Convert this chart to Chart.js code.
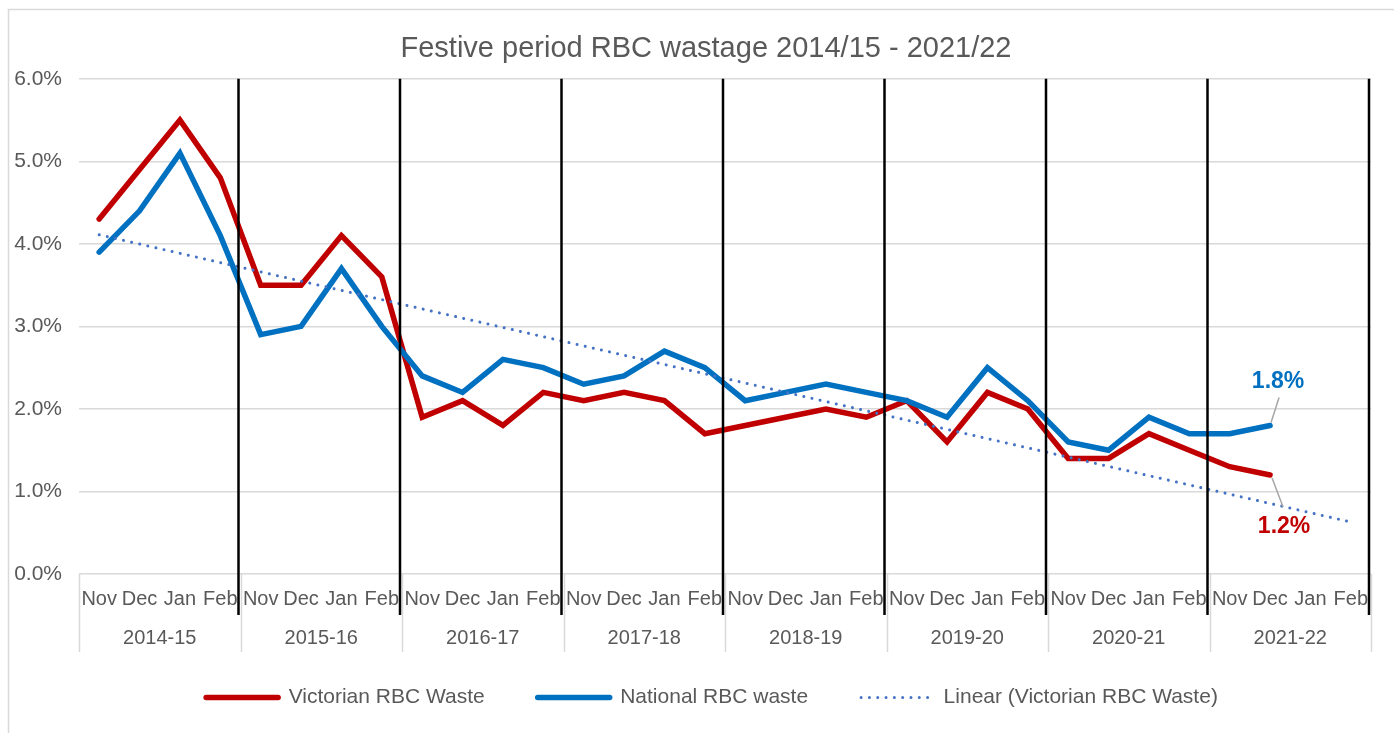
<!DOCTYPE html>
<html>
<head>
<meta charset="utf-8">
<title>Festive period RBC wastage</title>
<script src="https://cdn.jsdelivr.net/npm/chart.js@4.4.1/dist/chart.umd.min.js"></script>
<style>
    html, body { margin: 0; padding: 0; background: #ffffff; }
    #wrap { position: relative; width: 1394px; height: 733px; }
</style>
</head>
<body>
<div id="wrap"><canvas id="rbc-chart"></canvas></div>
<script>
/************************************************************/
/*                      CHART DATA                          */
/************************************************************/

const months = ['Nov', 'Dec', 'Jan', 'Feb'];
const seasons = ['2014-15', '2015-16', '2016-17', '2017-18', '2018-19', '2019-20', '2020-21', '2021-22'];

// % of red blood cells wasted, one value per month (Nov..Feb) per season
const victorianWaste = [
    4.3, 4.9, 5.5, 4.8,
    3.5, 3.5, 4.1, 3.6,
    1.9, 2.1, 1.8, 2.2,
    2.1, 2.2, 2.1, 1.7,
    1.8, 1.9, 2.0, 1.9,
    2.1, 1.6, 2.2, 2.0,
    1.4, 1.4, 1.7, 1.5,
    1.3, 1.2, null, null
];
const nationalWaste = [
    3.9, 4.4, 5.1, 4.1,
    2.9, 3.0, 3.7, 3.0,
    2.4, 2.2, 2.6, 2.5,
    2.3, 2.4, 2.7, 2.5,
    2.1, 2.2, 2.3, 2.2,
    2.1, 1.9, 2.5, 2.1,
    1.6, 1.5, 1.9, 1.7,
    1.7, 1.8, null, null
];

// Linear trend of the Victorian series, read at its two ends
const trendStart = 4.11;
const trendEnd = 0.63;

const yTicks = [0, 1, 2, 3, 4, 5, 6];

const FONT = '"Liberation Sans", Arial, sans-serif';
const TEXT = '#595959';
const GRID = '#d9d9d9';
const RED = '#c00000';
const BLUE = '#0070c0';
const TREND = '#4472c4';

/************************************************************/
/*                  DECORATION PLUGIN                       */
/************************************************************/

/* Draw the last value of a series with a small grey leader line */
function drawEndLabel(chart, datasetIndex, values, color, dx, dy, lead) {
    const ctx = chart.ctx;
    let idx = values.length - 1;
    while (values[idx] === null) idx--;
    const pt = chart.getDatasetMeta(datasetIndex).data[idx];

    ctx.save();
    ctx.strokeStyle = '#a6a6a6';
    ctx.lineWidth = 1.5;
    ctx.beginPath();
    ctx.moveTo(pt.x + lead[0], pt.y + lead[1]);
    ctx.lineTo(pt.x + lead[2], pt.y + lead[3]);
    ctx.stroke();

    ctx.fillStyle = color;
    ctx.font = 'bold 23px ' + FONT;
    ctx.textAlign = 'center';
    ctx.textBaseline = 'middle';
    ctx.fillText(values[idx].toFixed(1) + '%', pt.x + dx, pt.y + dy);
    ctx.restore();
}

const seasonPlugin = {
    id: 'seasonDecor',
    afterLayout(chart) {
        // centre title and legend the way the spreadsheet does
        const area = chart.chartArea;
        chart.titleBlock.left = area.left - 38;
        chart.legend.left = area.left - 26;
        chart.legend.top -= 15;
        chart.legend.bottom -= 15;
    },
    beforeDraw(chart) {
        const ctx = chart.ctx;
        ctx.save();
        ctx.fillStyle = '#ffffff';
        ctx.fillRect(0, 0, chart.width, chart.height);
        // outer chart border
        ctx.strokeStyle = GRID;
        ctx.lineWidth = 1.5;
        ctx.strokeRect(8.5, 9.5, chart.width + 20, chart.height + 20);
        ctx.restore();
    },
    afterDraw(chart) {
        const ctx = chart.ctx;
        const area = chart.chartArea;
        const x = chart.scales.x;
        const x2 = chart.scales.x2;

        ctx.save();
        // grey separators between season groups on the axis
        ctx.strokeStyle = GRID;
        ctx.lineWidth = 1.5;
        for (let k = 0; k <= seasons.length; k++) {
            const px = Math.round(x2.getPixelForValue(k * months.length)) + 0.5;
            ctx.beginPath();
            ctx.moveTo(px, area.bottom);
            ctx.lineTo(px, x2.bottom + 3);
            ctx.stroke();
        }
        // black lines closing each season
        ctx.strokeStyle = '#000000';
        ctx.lineWidth = 2.5;
        for (let k = 1; k <= seasons.length; k++) {
            const px = x2.getPixelForValue(k * months.length) - 2;
            ctx.beginPath();
            ctx.moveTo(px, area.top);
            ctx.lineTo(px, x.bottom + 3);
            ctx.stroke();
        }
        ctx.restore();

        drawEndLabel(chart, 1, nationalWaste, BLUE, 8, -44, [1, -3, 9, -28]);
        drawEndLabel(chart, 0, victorianWaste, RED, 14, 52, [2, 3, 13, 32]);
    }
};

/* Legend entries keep the dataset's dash pattern */
function legendLabels(chart) {
    const items = Chart.defaults.plugins.legend.labels.generateLabels(chart);
    items.forEach((item) => {
        const ds = chart.data.datasets[item.datasetIndex];
        item.lineDash = ds.borderDash || [];
        item.lineWidth = ds.borderWidth;
        item.lineCap = 'round';
    });
    return items;
}

/************************************************************/
/*                      INIT CHART                          */
/************************************************************/

function initWasteChart() {
    const labels = seasons.flatMap(() => months);
    const trend = victorianWaste.map(() => null);
    trend[0] = trendStart;
    trend[trend.length - 1] = trendEnd;

    const ctx = document.getElementById('rbc-chart');
    return new Chart(ctx, {
        type: 'line',
        data: {
            labels: labels,
            datasets: [{
                label: 'Victorian RBC Waste',
                data: victorianWaste,
                borderColor: RED,
                backgroundColor: RED,
                borderWidth: 5.5,
                borderCapStyle: 'round',
                pointRadius: 0,
                tension: 0,
                order: 3
            }, {
                label: 'National RBC waste',
                data: nationalWaste,
                borderColor: BLUE,
                backgroundColor: BLUE,
                borderWidth: 5.5,
                borderCapStyle: 'round',
                pointRadius: 0,
                tension: 0,
                order: 2
            }, {
                label: 'Linear (Victorian RBC Waste)',
                data: trend,
                borderColor: TREND,
                backgroundColor: TREND,
                borderWidth: 3,
                borderDash: [0.01, 8.3],
                borderCapStyle: 'round',
                pointRadius: 0,
                spanGaps: true,
                order: 1
            }]
        },
        options: {
            responsive: false,
            animation: false,
            layout: { padding: { left: 0, right: 23, top: 0, bottom: 0 } },
            plugins: {
                title: {
                    display: true,
                    text: 'Festive period RBC wastage 2014/15 - 2021/22',
                    color: TEXT,
                    font: { family: FONT, size: 29, weight: 'normal' },
                    padding: { top: 32, bottom: 12 }
                },
                legend: {
                    position: 'bottom',
                    labels: {
                        usePointStyle: true,
                        pointStyle: 'line',
                        pointStyleWidth: 72,
                        padding: 53,
                        color: TEXT,
                        font: { family: FONT, size: 21 },
                        generateLabels: legendLabels,
                        sort: (a, b) => a.datasetIndex - b.datasetIndex
                    }
                },
                tooltip: { enabled: false }
            },
            scales: {
                x: {
                    type: 'category',
                    offset: true,
                    grid: { display: false, drawTicks: false },
                    border: { display: false },
                    afterFit: (scale) => { scale.height = 38; },
                    ticks: {
                        autoSkip: false,
                        maxRotation: 0,
                        padding: 13,
                        color: TEXT,
                        font: { family: FONT, size: 20 }
                    }
                },
                x2: {
                    type: 'linear',
                    position: 'bottom',
                    min: 0,
                    max: seasons.length * months.length,
                    grid: { display: false, drawTicks: false },
                    border: { display: false },
                    afterBuildTicks: (scale) => {
                        scale.ticks = seasons.map((s, i) => ({ value: i * months.length + months.length / 2 }));
                    },
                    afterFit: (scale) => { scale.height = 37; },
                    ticks: {
                        autoSkip: false,
                        maxRotation: 0,
                        padding: 14,
                        color: TEXT,
                        font: { family: FONT, size: 20 },
                        callback: (value) => seasons[Math.round((value - months.length / 2) / months.length)]
                    }
                },
                y: {
                    min: 0,
                    max: 6,
                    afterBuildTicks: (scale) => {
                        scale.ticks = yTicks.map((v) => ({ value: v }));
                    },
                    afterFit: (scale) => { scale.width = 79; },
                    border: { display: false },
                    grid: { color: GRID, lineWidth: 1.5, drawTicks: false },
                    ticks: {
                        padding: 17,
                        color: TEXT,
                        font: { family: FONT, size: 21 },
                        callback: (value) => value.toFixed(1) + '%'
                    }
                }
            }
        },
        plugins: [seasonPlugin]
    });
}

/* Instantiate the chart */
const canvasEl = document.getElementById('rbc-chart');
canvasEl.width = 1394;
canvasEl.height = 733;
var wasteChart = initWasteChart();
</script>
</body>
</html>
